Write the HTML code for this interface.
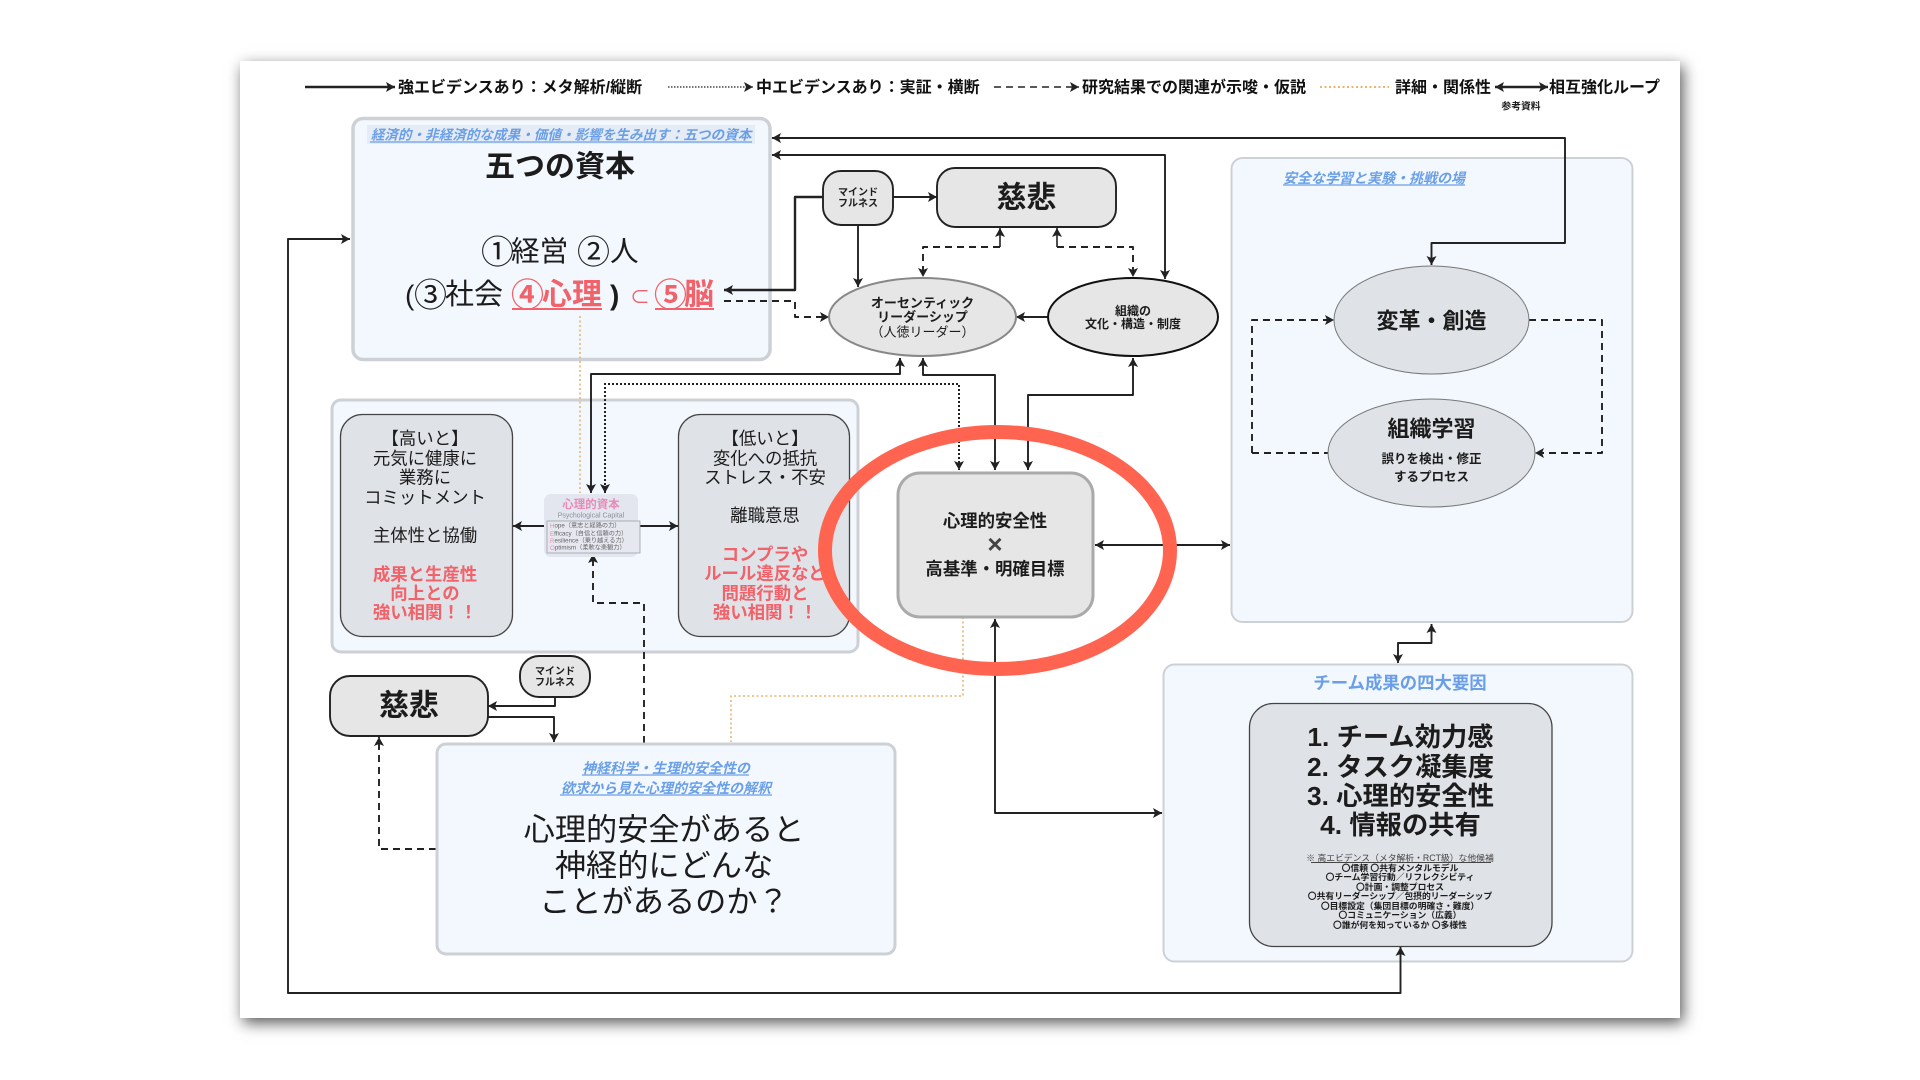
<!DOCTYPE html>
<html lang="ja">
<head>
<meta charset="utf-8">
<title>心理的安全性 図解</title>
<style>
html,body{margin:0;padding:0;background:#fff;width:1920px;height:1080px;overflow:hidden}
#slide{position:absolute;left:240px;top:61px;width:1440px;height:957px;background:#fff;box-shadow:3px 5px 14px rgba(0,0,0,.65)}
svg{position:absolute;left:0;top:0;filter:blur(.35px)}
text{font-family:"Liberation Sans","Noto Sans CJK JP",sans-serif;fill:#1c1c1c;dominant-baseline:central;transform:translateY(1.2px)}
.m{text-anchor:middle}
.lg{font-size:16px;font-weight:700;fill:#111}
.b{font-weight:700}
.bl{fill:#6a9fe8;font-weight:700;font-style:italic}
.r{fill:#f2626a;font-weight:700}
.box{fill:#f3f8fe;stroke:#cdd1d6}
.card{fill:#dfe2e7;stroke:#444;stroke-width:1.3}
.ln{fill:none;stroke:#222;stroke-width:1.9;stroke-linejoin:round}
.d{stroke-dasharray:7 5}
.o{fill:none;stroke:#e9b56f;stroke-width:1.6;stroke-dasharray:2 2.5}
.dt{fill:none;stroke:#222;stroke-width:2;stroke-dasharray:2 2}
.a{marker-end:url(#ah)}
.s{marker-start:url(#ahs)}
.ul{stroke:#6a9fe8;stroke-width:1.2}
.ur{stroke:#f2626a;stroke-width:2}
</style>
</head>
<body>
<div id="slide"></div>
<svg width="1920" height="1080" viewBox="0 0 1920 1080" xmlns="http://www.w3.org/2000/svg">
<defs>
<marker id="ah" markerUnits="userSpaceOnUse" markerWidth="12" markerHeight="12" refX="11" refY="6" orient="auto"><path d="M2,1 L11,6 L2,11 L4,6 Z" fill="#222"/></marker>
<marker id="ahs" markerUnits="userSpaceOnUse" markerWidth="12" markerHeight="12" refX="11" refY="6" orient="auto-start-reverse"><path d="M2,1 L11,6 L2,11 L4,6 Z" fill="#222"/></marker>
</defs>

<!-- legend -->
<path class="ln a" d="M305,87 H395" style="stroke-width:2.4"/>
<text class="lg" x="398" y="87">強エビデンスあり：メタ解析/縦断</text>
<path class="dt a" d="M668,87 H753" style="stroke-width:1.2;stroke-dasharray:1.5 1.5"/>
<text class="lg" x="756" y="87">中エビデンスあり：実証・横断</text>
<path class="ln d a" d="M994,87 H1079" style="stroke-width:1.6"/>
<text class="lg" x="1082" y="87">研究結果での関連が示唆・仮説</text>
<path class="o" d="M1320,87 H1389" style="stroke-width:2"/>
<text class="lg" x="1395" y="87">詳細・関係性</text>
<path class="ln a s" d="M1495,87 H1548" style="stroke-width:2.4"/>
<text class="lg" x="1549" y="87">相互強化ループ</text>
<text class="m b" x="1521" y="106" font-size="9.8">参考資料</text>

<!-- containers -->
<rect class="box" x="353" y="118.5" width="417" height="241" rx="10" stroke-width="3.5"/>
<rect x="367" y="125" width="388" height="19" fill="#e6ecf5"/>
<rect class="box" x="332" y="400" width="526" height="252" rx="9" stroke-width="3"/>
<rect class="box" x="1231.5" y="158" width="401" height="464" rx="11" stroke-width="2"/>
<rect class="box" x="1163.5" y="664.5" width="469" height="297" rx="11" stroke-width="2"/>

<!-- orange lines -->
<path class="o" d="M580,316 V493"/>
<path class="o" d="M963,617 V696 H731 V742"/>

<!-- connectors -->
<path class="ln a s" d="M772,138 H1565 V243 H1431.5 V265"/>
<path class="ln a s" d="M772,155 H1165 V279"/>
<path class="ln a" d="M823,197 H795 V290 H724" style="stroke-width:2.4"/>
<path class="ln a" d="M893,197 H937"/>
<path class="ln a" d="M858,225 V287"/>
<path class="ln d a" d="M724,301 H795 V317 H829"/>
<path class="ln a" d="M1048,317 H1016"/>
<path class="ln d a" d="M1000,247 H923 V277"/>
<path class="ln a" d="M1000,247 V228" style="stroke-width:1.6"/>
<path class="ln d a" d="M1057,247 H1133 V277"/>
<path class="ln a" d="M1057,247 V228" style="stroke-width:1.6"/>
<path class="ln a s" d="M923,358 V375 H995 V470"/>
<path class="ln a s" d="M900,358 V374 H591 V493"/>
<path class="dt a s" d="M605,493 V384 H959 V470"/>
<path class="ln a s" d="M1133,358 V395 H1028 V470"/>
<path class="ln a s" d="M1095,545 H1230"/>
<path class="ln a s" d="M995,619 V813 H1162"/>
<path class="ln a s" d="M350,239 H288 V993 H1400.5 V947"/>
<path class="ln a s" d="M1431.5,624 V643 H1398 V663"/>
<path class="ln a" d="M544,526 H513"/>
<path class="ln a" d="M638,526 H678"/>
<path class="ln d a" d="M644,743 V603 H593 V554"/>
<path class="ln a" d="M555,697 V706 H488"/>
<path class="ln a" d="M488,717 H554 V742"/>
<path class="ln d a" d="M436,849 H379 V737"/>
<path class="ln d a" d="M1252,453 V320 H1334"/>
<path class="ln d" d="M1252,453 H1328"/>
<path class="ln d a" d="M1529,320 H1602 V453 H1535"/>

<!-- 五つの資本 -->
<text class="m bl" x="561" y="134" font-size="13.6">経済的・非経済的な成果・価値・影響を生み出す：五つの資本</text>
<line class="ul" x1="370" y1="142" x2="752" y2="142"/>
<text class="m b" x="560" y="166" font-size="30">五つの資本</text>
<text x="481" y="251" font-size="33">①</text>
<text x="511" y="251" font-size="28.6">経営</text>
<text x="577" y="251" font-size="33">②</text>
<text x="610" y="251" font-size="28.6">人</text>
<text x="405" y="294" font-size="28">(</text>
<text x="414" y="294" font-size="33">③</text>
<text x="445" y="294" font-size="29">社会</text>
<text class="r" x="511" y="294" font-size="33">④</text>
<text class="r" x="542" y="294" font-size="30">心理</text>
<text x="610" y="294" font-size="28" class="b">)</text>
<text class="r" x="630" y="297" font-size="20" style="font-weight:400">⊂</text>
<text class="r" x="654" y="294" font-size="33">⑤</text>
<text class="r" x="684" y="294" font-size="30">脳</text>
<line class="ur" x1="512" y1="309" x2="602" y2="309"/>
<line class="ur" x1="655" y1="309" x2="714" y2="309"/>

<!-- top nodes -->
<rect x="823" y="171" width="70" height="54" rx="18" fill="#e6e6e6" stroke="#222" stroke-width="1.9"/>
<text class="m b" x="858" y="192" font-size="10">マインド</text>
<text class="m b" x="858" y="203" font-size="10">フルネス</text>
<rect x="937" y="168" width="179" height="59" rx="18" fill="#e6e6e6" stroke="#222" stroke-width="1.9"/>
<text class="m b" x="1026.5" y="197" font-size="30">慈悲</text>
<ellipse cx="922.5" cy="317" rx="93.5" ry="39" fill="#e6e6e6" stroke="#888" stroke-width="2"/>
<text class="m b" x="922.5" y="302" font-size="13">オーセンティック</text>
<text class="m b" x="922.5" y="316" font-size="13">リーダーシップ</text>
<text class="m" x="922.5" y="331" font-size="13">（人徳リーダー）</text>
<ellipse cx="1133" cy="317" rx="85" ry="39" fill="#e6e6e6" stroke="#111" stroke-width="2"/>
<text class="m b" x="1133" y="310" font-size="12">組織の</text>
<text class="m b" x="1133" y="323" font-size="12">文化・構造・制度</text>

<!-- left cards -->
<rect class="card" x="340.5" y="414.5" width="172" height="222" rx="22"/>
<g font-size="17.4">
<text class="m" x="425" y="437.5">【高いと】</text>
<text class="m" x="425" y="457.5">元気に健康に</text>
<text class="m" x="425" y="476.5">業務に</text>
<text class="m" x="425" y="496.5">コミットメント</text>
<text class="m" x="425" y="534.5">主体性と協働</text>
<text class="m r" x="425" y="573.5">成果と生産性</text>
<text class="m r" x="425" y="592.5">向上との</text>
<text class="m r" x="425" y="611.5">強い相関！！</text>
</g>
<rect class="card" x="678.5" y="414.5" width="171" height="222" rx="22"/>
<g font-size="17.4">
<text class="m" x="765" y="437.5">【低いと】</text>
<text class="m" x="765" y="457.5">変化への抵抗</text>
<text class="m" x="765" y="476.5">ストレス・不安</text>
<text class="m" x="765" y="514.5">離職意思</text>
<text class="m r" x="765" y="553.5">コンプラや</text>
<text class="m r" x="765" y="572.5">ルール違反など</text>
<text class="m r" x="765" y="592.5">問題行動と</text>
<text class="m r" x="765" y="611.5">強い相関！！</text>
</g>

<!-- psychological capital -->
<rect x="544" y="494" width="94" height="63" rx="7" fill="#e3e6ee"/>
<text class="m b" x="591" y="504" font-size="11.5" style="fill:#e88ab8">心理的資本</text>
<text class="m" x="591" y="515" font-size="7" style="fill:#8a8f98">Psychological Capital</text>
<rect x="547" y="521" width="93" height="32" fill="#e6e8f0" stroke="#9a9fa8" stroke-width=".8"/>
<g font-size="6.2">
<text x="550" y="525" style="fill:#666"><tspan style="fill:#e88ab8">H</tspan>ope（意志と経路の力）</text>
<text x="550" y="533" style="fill:#666"><tspan style="fill:#e88ab8">E</tspan>fficacy（自信と信頼の力）</text>
<text x="550" y="540" style="fill:#666"><tspan style="fill:#e88ab8">R</tspan>esilience（乗り越える力）</text>
<text x="550" y="547" style="fill:#666"><tspan style="fill:#e88ab8">O</tspan>ptimism（柔軟な楽観力）</text>
</g>

<!-- central -->
<rect x="898" y="473" width="195" height="144" rx="22" fill="#e6e6e6" stroke="#aaa" stroke-width="3"/>
<text class="m b" x="995" y="520" font-size="17.4">心理的安全性</text>
<text class="m b" x="995" y="543" font-size="26" style="fill:#444">×</text>
<text class="m b" x="995" y="568" font-size="17.4">高基準・明確目標</text>

<!-- bottom left -->
<rect x="330" y="676" width="158" height="60" rx="20" fill="#e6e6e6" stroke="#222" stroke-width="1.9"/>
<text class="m b" x="409" y="705" font-size="30">慈悲</text>
<rect x="520" y="656" width="70" height="41" rx="19" fill="#e6e6e6" stroke="#222" stroke-width="1.9"/>
<text class="m b" x="555" y="671" font-size="10">マインド</text>
<text class="m b" x="555" y="682" font-size="10">フルネス</text>
<rect class="box" x="437" y="744" width="458" height="210" rx="9" stroke-width="3"/>
<text class="m bl" x="666" y="767" font-size="14">神経科学・生理的安全性の</text>
<line class="ul" x1="582" y1="775" x2="749" y2="775"/>
<text class="m bl" x="666" y="787" font-size="14">欲求から見た心理的安全性の解釈</text>
<line class="ul" x1="560" y1="795" x2="772" y2="795"/>
<g font-size="31.2">
<text class="m" x="664" y="829">心理的安全があると</text>
<text class="m" x="664" y="865">神経的にどんな</text>
<text class="m" x="664" y="901">ことがあるのか？</text>
</g>

<!-- right -->
<text class="bl" x="1283" y="177" font-size="14">安全な学習と実験・挑戦の場</text>
<line class="ul" x1="1283" y1="185" x2="1465" y2="185"/>
<ellipse cx="1431.5" cy="320" rx="97.5" ry="54" fill="#dfe2e7" stroke="#777" stroke-width="1"/>
<text class="m b" x="1431.5" y="320" font-size="22">変革・創造</text>
<ellipse cx="1431.5" cy="453" rx="103.5" ry="54" fill="#dfe2e7" stroke="#777" stroke-width="1"/>
<text class="m b" x="1431.5" y="428" font-size="22">組織学習</text>
<text class="m b" x="1431.5" y="458" font-size="12.5">誤りを検出・修正</text>
<text class="m b" x="1431.5" y="476" font-size="12.5">するプロセス</text>

<text class="m b" x="1400" y="682" font-size="17.4" style="fill:#6a9fe8">チーム成果の四大要因</text>
<rect class="card" x="1249.5" y="703.5" width="302.5" height="243" rx="24"/>
<g font-size="26.3">
<text class="m b" x="1400.5" y="736">1. チーム効力感</text>
<text class="m b" x="1400.5" y="766">2. タスク凝集度</text>
<text class="m b" x="1400.5" y="795">3. 心理的安全性</text>
<text class="m b" x="1400.5" y="824">4. 情報の共有</text>
</g>
<g font-size="8.8">
<text class="m" x="1400" y="857" style="fill:#444">※ 高エビデンス（メタ解析・RCT級）な他候補</text>
<line x1="1311" y1="862.5" x2="1491" y2="862.5" stroke="#444" stroke-width=".9"/>
<text class="m b" x="1400" y="867">〇信頼 〇共有メンタルモデル</text>
<text class="m b" x="1400" y="876">〇チーム学習行動／リフレクシビティ</text>
<text class="m b" x="1400" y="886">〇計画・調整プロセス</text>
<text class="m b" x="1400" y="895">〇共有リーダーシップ／包摂的リーダーシップ</text>
<text class="m b" x="1400" y="905">〇目標設定（集団目標の明確さ・難度）</text>
<text class="m b" x="1400" y="914">〇コミュニケーション（広義）</text>
<text class="m b" x="1400" y="924">〇誰が何を知っているか 〇多様性</text>
</g>

<!-- red emphasis ring -->
<ellipse cx="997.5" cy="550.5" rx="172.5" ry="118.5" fill="none" stroke="#ff6450" stroke-width="14"/>
</svg>
</body>
</html>
